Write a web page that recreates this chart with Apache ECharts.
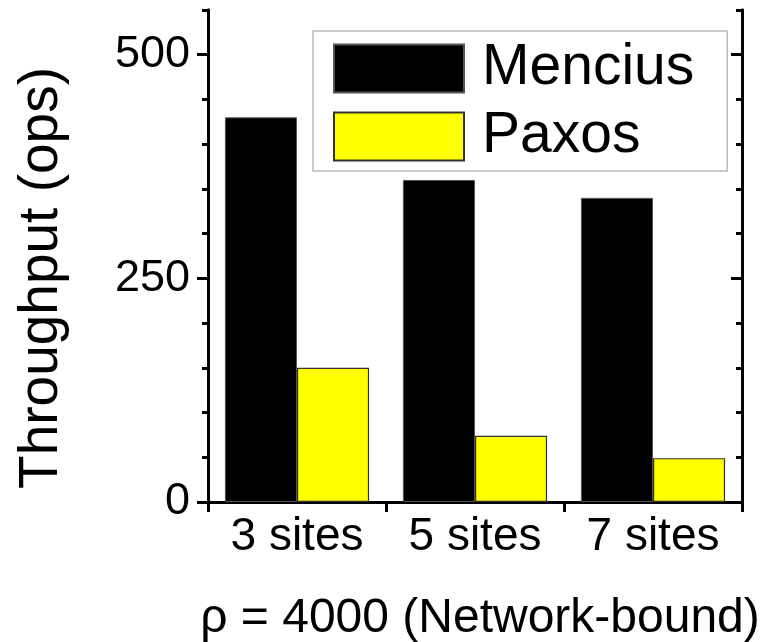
<!DOCTYPE html>
<html>
<head>
<meta charset="utf-8">
<script src="https://cdn.jsdelivr.net/npm/echarts@6/dist/echarts.min.js"></script>
<style>html,body{margin:0;padding:0;background:#fff}#c{width:760px;height:642px}</style>
</head>
<body>
<div id="c"></div>
<script>
const categories = ['3 sites', '5 sites', '7 sites'];
const mencius = [430, 360, 340];
const paxos = [150, 74, 49];
const majorTicks = [0, 250, 500];

const FONT = 'Liberation Sans, Arial, Helvetica, sans-serif';
const chart = echarts.init(document.getElementById('c'));
const axisLine = { show: true, lineStyle: { color: '#000', width: 3 } };

chart.setOption({
  animation: false,
  backgroundColor: '#fff',
  textStyle: { fontFamily: FONT },
  grid: { left: 208, right: 18, top: 10, bottom: 140, outerBoundsMode: 'none', containLabel: false },
  legend: {
    orient: 'vertical',
    left: 313, top: 31,
    padding: [9, 33, 6, 20],
    itemWidth: 130, itemHeight: 48, itemGap: 11,
    icon: 'rect',
    borderColor: '#bbb', borderWidth: 1.5,
    backgroundColor: '#fff',
    textStyle: { fontSize: 57, color: '#000', fontFamily: FONT, padding: [0, 0, 0, 13] },
    data: ['Mencius', 'Paxos']
  },
  graphic: [
    {
      type: 'text', x: 42, y: 278, rotation: Math.PI / 2,
      style: { text: 'Throughput (ops)', fontSize: 55, fontFamily: FONT, fill: '#000', align: 'center', verticalAlign: 'middle' }
    }
  ],
  xAxis: [
    {
      type: 'category', data: categories, position: 'bottom',
      axisLine: axisLine,
      axisTick: { show: true, length: 10, lineStyle: { width: 3, color: '#000' } },
      axisLabel: { fontSize: 46, color: '#000', margin: 12, fontFamily: FONT },
      name: 'ρ = 4000 (Network-bound)', nameLocation: 'middle', nameGap: 93,
      nameTextStyle: { fontSize: 48, color: '#000', fontFamily: FONT, padding: [0, 0, 0, 10] }
    },
    {
      type: 'category', data: categories, position: 'top',
      axisLine: axisLine,
      axisTick: { show: true, inside: true, length: 10, lineStyle: { width: 3, color: '#000' } },
      axisLabel: { show: false }
    }
  ],
  yAxis: [
    {
      type: 'value', min: 0, max: 550, interval: 50, position: 'left',
      axisLine: axisLine,
      axisTick: { show: true, length: 6, lineStyle: { width: 3, color: '#000' } },
      axisLabel: { show: false }, splitLine: { show: false }
    },
    {
      type: 'value', min: 0, max: 550, position: 'left',
      axisLine: axisLine,
      axisTick: { show: true, length: 11, customValues: majorTicks, lineStyle: { width: 3, color: '#000' } },
      axisLabel: { show: true, customValues: majorTicks, fontSize: 45, color: '#000', margin: 18, fontFamily: FONT },
      splitLine: { show: false }
    },
    {
      type: 'value', min: 0, max: 550, interval: 50, position: 'right',
      axisLine: axisLine,
      axisTick: { show: true, inside: true, length: 6, lineStyle: { width: 3, color: '#000' } },
      axisLabel: { show: false }, splitLine: { show: false }
    },
    {
      type: 'value', min: 0, max: 550, position: 'right',
      axisLine: axisLine,
      axisTick: { show: true, inside: true, length: 11, customValues: majorTicks, lineStyle: { width: 3, color: '#000' } },
      axisLabel: { show: false }, splitLine: { show: false }
    }
  ],
  series: [
    {
      name: 'Mencius', type: 'bar', data: mencius, xAxisIndex: 0, yAxisIndex: 0,
      barGap: '0%', barCategoryGap: '19%',
      itemStyle: { color: '#000', borderColor: '#555', borderWidth: 1 }
    },
    {
      name: 'Paxos', type: 'bar', data: paxos, xAxisIndex: 0, yAxisIndex: 0,
      barGap: '0%', barCategoryGap: '19%',
      itemStyle: { color: '#ffff00', borderColor: '#333', borderWidth: 1.2 }
    }
  ]
});
</script>
</body>
</html>
